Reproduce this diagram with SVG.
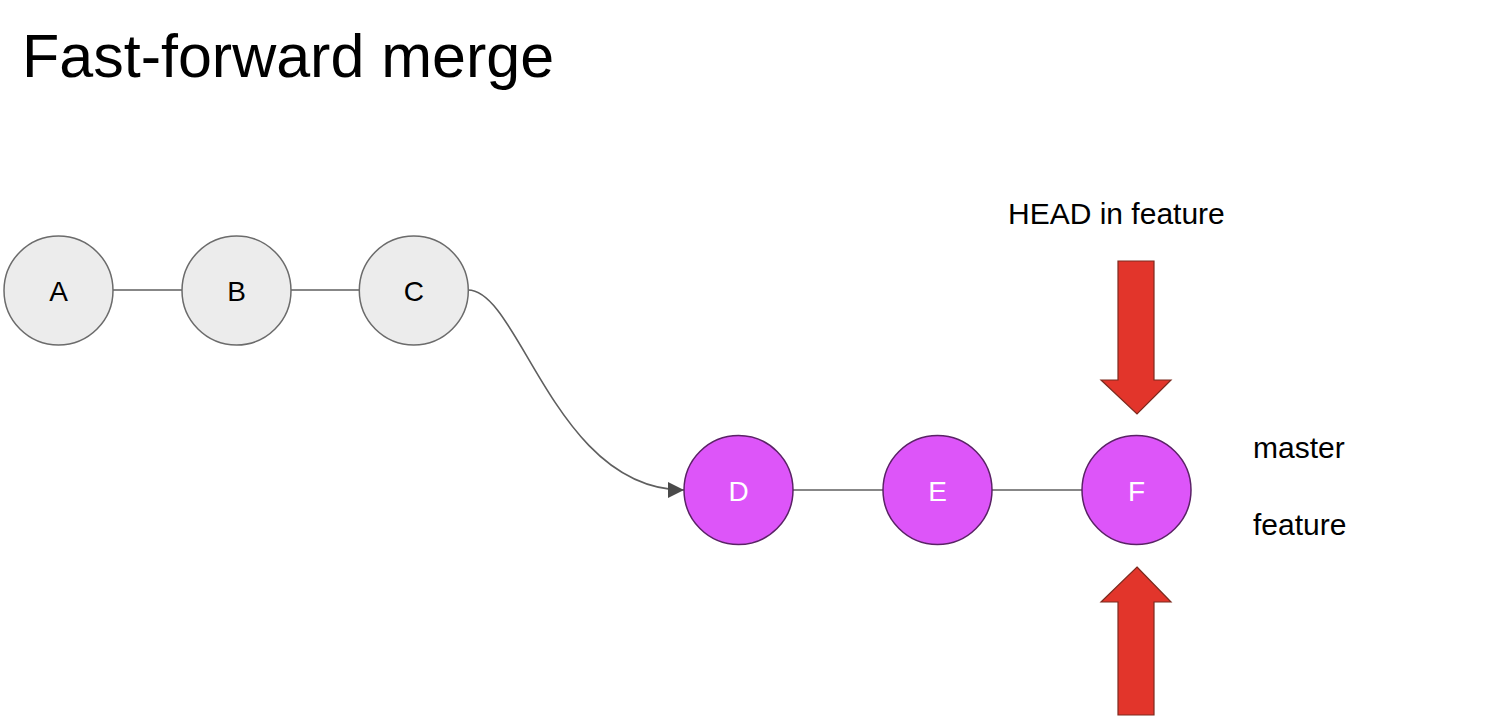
<svg xmlns="http://www.w3.org/2000/svg" width="1492" height="725" viewBox="0 0 1492 725">
<defs>
<style>
text{font-family:"Liberation Sans",Arial,sans-serif;fill:#000}
.title{font-size:61px}
.lbl{font-size:30px}
.nl{font-size:28px;text-anchor:middle}
.grey circle{fill:#ececec;stroke:#6b6b6b;stroke-width:1.5}
.pink circle{fill:#dd55f9;stroke:#5a2266;stroke-width:1.5}
.pink text{fill:#ffffff}
.edge{fill:none;stroke:#5f5f5f;stroke-width:1.6}
.red{fill:#e2352b;stroke:#7d2a1e;stroke-width:1.2}
</style>
<marker id="ah" viewBox="0 0 10 10" refX="10" refY="5" markerWidth="16" markerHeight="16" markerUnits="userSpaceOnUse" orient="auto">
<path d="M0,0 L10,5 L0,10 z" fill="#4a4a4a"/>
</marker>
</defs>
<rect width="1492" height="725" fill="#ffffff"/>
<text class="title" x="22" y="77">Fast-forward merge</text>
<g id="connectors">
<line class="edge" x1="113" y1="290" x2="182" y2="290"/>
<line class="edge" x1="291" y1="290" x2="360" y2="290"/>
<path class="edge" d="M468,290 C520,290 555,490 684,490" marker-end="url(#ah)"/>
<line class="edge" x1="793" y1="490" x2="883" y2="490"/>
<line class="edge" x1="992" y1="490" x2="1082" y2="490"/>
</g>
<g id="A" class="grey"><circle cx="58.5" cy="290.5" r="54.5"/><text class="nl" x="58.5" y="301">A</text></g>
<g id="B" class="grey"><circle cx="236.5" cy="290.5" r="54.5"/><text class="nl" x="236.5" y="301">B</text></g>
<g id="C" class="grey"><circle cx="413.8" cy="290.5" r="54.5"/><text class="nl" x="413.8" y="301">C</text></g>
<g id="D" class="pink"><circle cx="738.5" cy="490" r="54.5"/><text class="nl" x="738.5" y="501">D</text></g>
<g id="E" class="pink"><circle cx="937.5" cy="490" r="54.5"/><text class="nl" x="937.5" y="501">E</text></g>
<g id="F" class="pink"><circle cx="1136.5" cy="490" r="54.5"/><text class="nl" x="1136.5" y="501">F</text></g>
<g id="head-arrow">
<path class="red" d="M1118,261 L1154,261 L1154,380 L1171,380 L1137,414 L1101,380 L1118,380 z"/>
<text class="lbl" x="1008" y="224">HEAD in feature</text>
</g>
<g id="branch-arrow">
<path class="red" d="M1137,567 L1171,602 L1154,602 L1154,715 L1118,715 L1118,602 L1101,602 z"/>
</g>
<g id="labels">
<text class="lbl" x="1253" y="458">master</text>
<text class="lbl" x="1253" y="535">feature</text>
</g>
</svg>
